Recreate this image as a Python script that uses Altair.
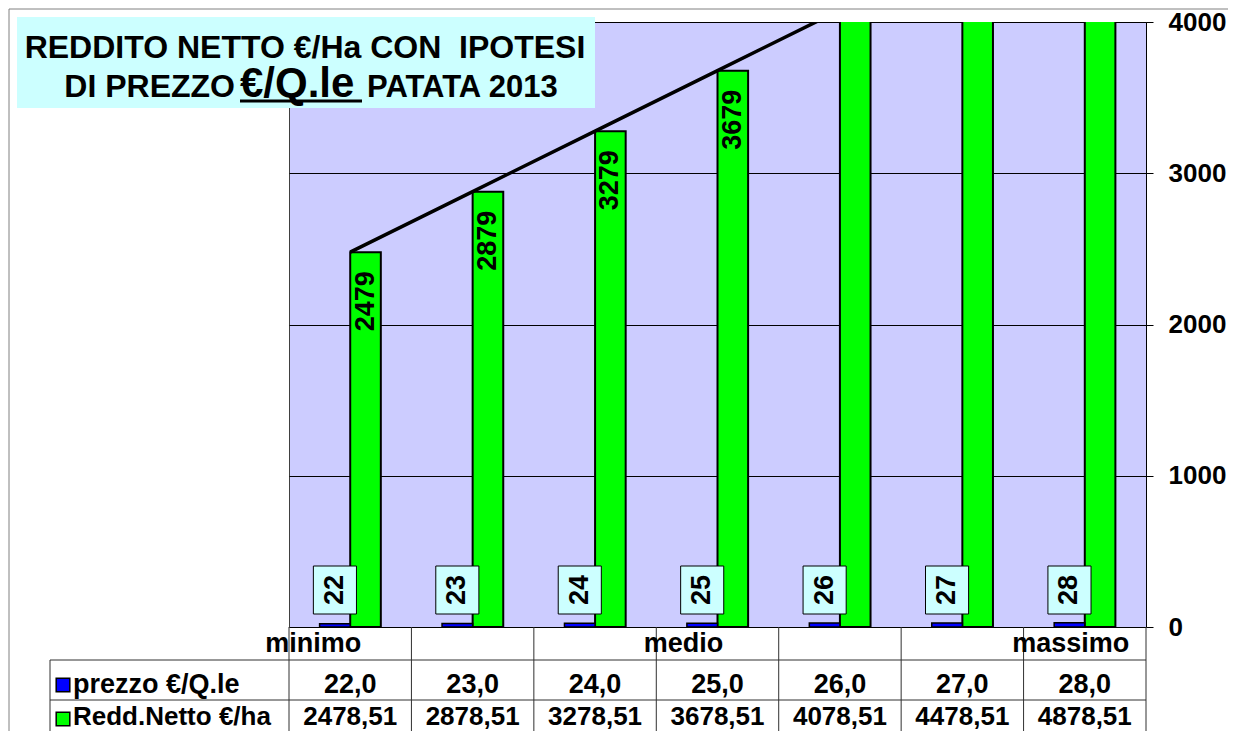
import altair as alt
import pandas as pd

# ---------------- data ----------------
idx = [1, 2, 3, 4, 5, 6, 7]
prezzo = [22.0, 23.0, 24.0, 25.0, 26.0, 27.0, 28.0]
redd = [2478.51, 2878.51, 3278.51, 3678.51, 4078.51, 4478.51, 4878.51]
fascia = ["minimo", "", "", "medio", "", "", "massimo"]
y_ticks = [0, 1000, 2000, 3000, 4000]
bounds = [0.5, 1.5, 2.5, 3.5, 4.5, 5.5, 6.5, 7.5]

df = pd.DataFrame({"idx": idx, "prezzo": prezzo, "redd": redd, "fascia": fascia})
bdf = pd.DataFrame({"b": bounds})
tdf = pd.DataFrame({"t": y_ticks})
one = pd.DataFrame({"k": [0]})

FONT = "Liberation Sans"
W, H = 857, 605
BLUE = "#0000FF"
GREEN = "#00FF00"
CYAN = "#CCFFFF"

xs = alt.Scale(domain=[0.5, 7.5], nice=False, zero=False)
ys = alt.Scale(domain=[0, 4000], nice=False, zero=True)

base = alt.Chart(df).transform_calculate(
    zero="0",
    bx0="datum.idx - 0.25",
    bx1="datum.idx",
    gx1="datum.idx + 0.25",
    bc="datum.idx - 0.125",
    gc="datum.idx + 0.125",
    lx0="datum.idx - 0.125 - 0.176",
    lx1="datum.idx - 0.125 + 0.176",
    ptxt="replace(format(datum.prezzo, '.1f'), '.', ',')",
    rtxt="replace(format(datum.redd, '.2f'), '.', ',')",
    plab="format(datum.prezzo, 'd')",
    rlab="format(round(datum.redd), 'd')",
)

yaxis = alt.Axis(
    orient="right", values=y_ticks, format="d", title=None, labelFont=FONT,
    labelFontSize=26, labelFontWeight="bold", labelColor="black", labelPadding=15,
    tickSize=7, tickColor="black", domainColor="black", grid=True,
    gridColor="black", gridWidth=1, labelOverlap=False,
)

# dedicated axis/grid layer
axis_layer = alt.Chart(tdf).mark_point(opacity=0).encode(
    y=alt.Y("t:Q", scale=ys, axis=yaxis),
)

green_bars = base.mark_rect(fill=GREEN, stroke="black", strokeWidth=2, clip=True).encode(
    x=alt.X("bx1:Q", scale=xs, axis=None),
    x2="gx1:Q",
    y=alt.Y("redd:Q", scale=ys, axis=yaxis),
    y2="zero:Q",
)

blue_bars = base.mark_rect(fill=BLUE, stroke="black", strokeWidth=1.5, clip=True).encode(
    x=alt.X("bx0:Q", scale=xs, axis=None),
    x2="bx1:Q",
    y=alt.Y("prezzo:Q", scale=ys, axis=yaxis),
    y2="zero:Q",
)

trend = base.mark_line(color="black", strokeWidth=3.5, clip=True).encode(
    x=alt.X("idx:Q", scale=xs, axis=None),
    y=alt.Y("redd:Q", scale=ys, axis=yaxis),
)

green_labels = base.transform_filter("datum.redd < 4000").mark_text(
    angle=270, align="right", baseline="middle", dx=-19, font=FONT,
    fontSize=27, fontWeight="bold", color="black",
).encode(
    x=alt.X("gc:Q", scale=xs, axis=None),
    y=alt.Y("redd:Q", scale=ys, axis=yaxis),
    text="rlab:N",
)

blue_boxes = base.mark_rect(fill=CYAN, stroke="black", strokeWidth=1).encode(
    x=alt.X("lx0:Q", scale=xs, axis=None),
    x2="lx1:Q",
    y=alt.value(544),
    y2=alt.value(592),
)

blue_labels = base.mark_text(
    angle=270, align="center", baseline="middle", font=FONT, fontSize=27,
    fontWeight="bold", color="black",
).encode(
    x=alt.X("bc:Q", scale=xs, axis=None),
    y=alt.value(568),
    text="plab:N",
)

# ---------------- table ----------------
LINE = "#303030"
vlines = alt.Chart(bdf).mark_rule(color=LINE, strokeWidth=1).encode(
    x=alt.X("b:Q", scale=xs, axis=None), y=alt.value(605), y2=alt.value(725)
)
hline1 = alt.Chart(one).mark_rule(color=LINE, strokeWidth=1).encode(
    x=alt.value(-239), x2=alt.value(W), y=alt.value(638)
)
hline2 = alt.Chart(one).mark_rule(color=LINE, strokeWidth=1).encode(
    x=alt.value(-239), x2=alt.value(W), y=alt.value(678)
)
vleft = alt.Chart(one).mark_rule(color=LINE, strokeWidth=1).encode(
    x=alt.value(-239), y=alt.value(638), y2=alt.value(725)
)

def fascia_layer(name, dx):
    return base.transform_filter(alt.datum.fascia == name).mark_text(
        dx=dx, baseline="middle", align="center", font=FONT, fontSize=27,
        fontWeight="bold", color="black",
    ).encode(x=alt.X("idx:Q", scale=xs, axis=None), y=alt.value(622), text="fascia:N")

f1 = fascia_layer("minimo", -37)
f2 = fascia_layer("medio", -34)
f3 = fascia_layer("massimo", -14)

row2 = base.mark_text(baseline="middle", align="center", font=FONT, fontSize=27,
                      fontWeight="bold", color="black").encode(
    x=alt.X("idx:Q", scale=xs, axis=None), y=alt.value(663), text="ptxt:N")
row3 = base.mark_text(baseline="middle", align="center", font=FONT, fontSize=26,
                      fontWeight="bold", color="black").encode(
    x=alt.X("idx:Q", scale=xs, axis=None), y=alt.value(695), text="rtxt:N")

key1 = alt.Chart(one).mark_square(size=185, fill=BLUE, stroke="black", strokeWidth=1.5, opacity=1).encode(
    x=alt.value(-226), y=alt.value(663))
key2 = alt.Chart(one).mark_square(size=185, fill=GREEN, stroke="black", strokeWidth=1.5, opacity=1).encode(
    x=alt.value(-226), y=alt.value(697))
leg1 = alt.Chart(one).mark_text(text="prezzo €/Q.le", align="left", baseline="middle", font=FONT,
                                fontSize=27, fontWeight="bold", color="black").encode(
    x=alt.value(-216), y=alt.value(663))
leg2 = alt.Chart(one).mark_text(text="Redd.Netto €/ha", align="left", baseline="middle", font=FONT,
                                fontSize=26, fontWeight="bold", color="black").encode(
    x=alt.value(-216), y=alt.value(695))

# ---------------- title ----------------
tbox = alt.Chart(one).mark_rect(fill=CYAN).encode(
    x=alt.value(-272), x2=alt.value(306), y=alt.value(-5), y2=alt.value(86))
t1 = alt.Chart(one).mark_text(text="REDDITO NETTO €/Ha CON\u00a0 IPOTESI", align="center",
                              baseline="alphabetic", font=FONT, fontSize=32, fontWeight="bold",
                              color="black").encode(x=alt.value(16), y=alt.value(36))
t2a = alt.Chart(one).mark_text(text="DI PREZZO", align="right", baseline="alphabetic", font=FONT,
                               fontSize=32, fontWeight="bold", color="black").encode(
    x=alt.value(-54), y=alt.value(75))
t2b = alt.Chart(one).mark_text(text="€/Q.le", align="left", baseline="alphabetic", font=FONT,
                               fontSize=42, fontWeight="bold", color="black").encode(
    x=alt.value(-49), y=alt.value(75))
t2c = alt.Chart(one).mark_text(text="PATATA 2013", align="left", baseline="alphabetic", font=FONT,
                               fontSize=31, fontWeight="bold", color="black").encode(
    x=alt.value(78), y=alt.value(75))
uline = alt.Chart(one).mark_rule(color="black", strokeWidth=3).encode(
    x=alt.value(-49), x2=alt.value(73), y=alt.value(79))

# outer frame
frame_l = alt.Chart(one).mark_rule(color="#808080", strokeWidth=1).encode(
    x=alt.value(-280), y=alt.value(-13), y2=alt.value(730))
frame_t = alt.Chart(one).mark_rule(color="#808080", strokeWidth=1).encode(
    x=alt.value(-280), x2=alt.value(950), y=alt.value(-13))

chart = alt.layer(
    axis_layer, green_bars, blue_bars, trend, green_labels, blue_boxes, blue_labels,
    vlines, hline1, hline2, vleft, f1, f2, f3, row2, row3, key1, key2, leg1, leg2,
    tbox, t1, t2a, t2b, t2c, uline, frame_l, frame_t,
).properties(
    width=W, height=H, autosize="none",
    padding={"left": 281, "top": 14, "right": 82, "bottom": 104},
    background="white",
).configure_view(fill="#CCCCFF", stroke="#404040", strokeWidth=1)

chart.save("out.html", embed_options={"renderer": "svg", "actions": False})
